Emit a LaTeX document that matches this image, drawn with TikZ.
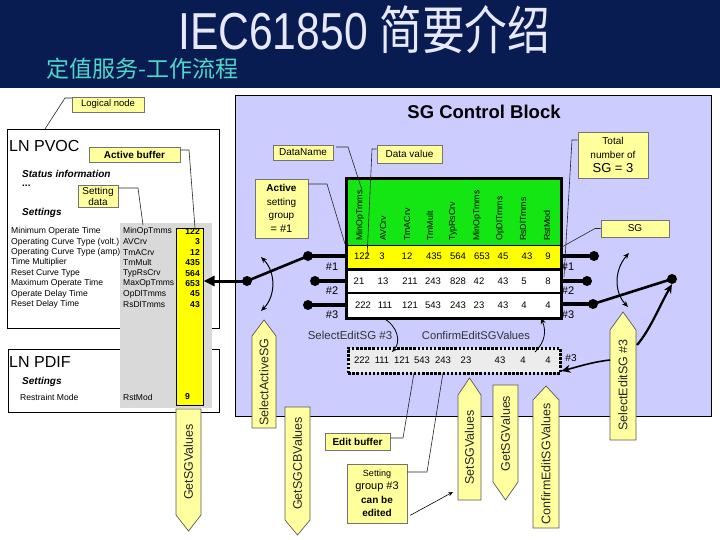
\documentclass[tikz,border=0pt]{standalone}
\usepackage{fontspec}
\setmainfont{Liberation Sans}
\newfontfamily\cjk{Noto Sans CJK SC}
\usetikzlibrary{arrows.meta}
\definecolor{navy}{RGB}{8,28,82}
\definecolor{titlecol}{RGB}{232,232,255}
\definecolor{subcol}{RGB}{80,215,200}
\definecolor{lav}{RGB}{204,204,255}
\definecolor{callout}{RGB}{255,255,155}
\definecolor{arrfill}{RGB}{255,255,160}
\definecolor{tgreen}{RGB}{20,230,20}
\definecolor{tyellow}{RGB}{255,255,0}
\definecolor{graycol}{RGB}{217,217,217}
\definecolor{bufgray}{RGB}{236,236,236}
\newcommand{\myfs}[1]{\fontsize{#1}{#1}\selectfont}
\newcommand{\uparrshape}[7]{%
  \draw[arrshape] (#2,#6) -- (#2,#5) -- ({(#2+#3)/2},#4) -- (#3,#5) -- (#3,#6) -- cycle;
  \node[arrtext, rotate=90] (#1) at ({(#2+#3)/2},{(#5+#6)/2}) {#7};}
\newcommand{\downarrshape}[7]{%
  \draw[arrshape] (#2,#4) -- (#2,#5) -- ({(#2+#3)/2},#6) -- (#3,#5) -- (#3,#4) -- cycle;
  \node[arrtext, rotate=90] (#1) at ({(#2+#3)/2},{(#4+#5)/2}) {#7};}
\begin{document}
\begin{tikzpicture}[x=1pt,y=-1pt,
 callout/.style={draw=black!55, fill=callout, inner sep=0pt, align=center, line width=0.6pt},
 leader/.style={line width=0.6pt, black!85},
 arrshape/.style={draw=black!65, fill=arrfill, line width=0.7pt},
 arrtext/.style={font=\myfs{12.5}, inner sep=0pt, text=black!85},
 dot/.style={circle, fill=black, inner sep=0pt, minimum size=10pt},
 swline/.style={line width=4pt},
 blade/.style={line width=2.6pt},
 curv/.style={line width=1pt, arrows={Stealth[length=6pt,width=5pt]-Stealth[length=6pt,width=5pt]}},
 curv1/.style={line width=0.8pt, arrows={-Stealth[length=6pt,width=5pt]}},
 plain/.style={inner sep=0pt},
 box/.style={draw, line width=0.8pt, anchor=north west, inner sep=0pt},
]
\useasboundingbox (0,0) rectangle (720,540);
\fill[white] (0,0) rectangle (720,540);
\fill[navy] (0,0) rectangle (720,88);
\node[anchor=base west, inner sep=0pt, text=titlecol] (title) at (178,50)
  {\scalebox{0.82}[1]{\fontsize{52}{52}\selectfont IEC61850 {\cjk 简要介绍}}};
\node[anchor=base west, inner sep=0pt, text=subcol] (subtitle) at (46,78)
  {\fontsize{23}{23}\selectfont\cjk 定值服务-工作流程};

% ---------- left panel ----------
\node[box, minimum width=212pt, minimum height=199pt] (pvoc) at (7,129) {};
\node[box, minimum width=211pt, minimum height=63pt] (pdif) at (8,349) {};
\fill[graycol] (120,223) rectangle (212,408);
\node[draw, fill=tyellow, line width=0.6pt, minimum width=27pt, minimum height=177pt, anchor=north west, inner sep=0pt] (ycol) at (176,228) {};

\node[plain, anchor=west, font=\myfs{16}] (pvoct) at (9,146) {LN PVOC};
\node[plain, anchor=west, font=\bfseries\itshape\myfs{10}] (status) at (22,174) {Status information};
\node[plain, anchor=west, font=\bfseries\myfs{10}] (dots) at (22,186) {...};
\node[plain, anchor=west, font=\bfseries\itshape\myfs{10}] (sett1) at (22,213) {Settings};
\foreach \lab/\dn/\val [count=\i] in {Minimum Operate Time/MinOpTmms/122,
  Operating Curve Type (volt.)/AVCrv/3, Operating Curve Type (amp)/TmACrv/12,
  Time Multiplier/TmMult/435, Reset Curve Type/TypRsCrv/564,
  Maximum Operate Time/MaxOpTmms/653, Operate Delay Time/OpDlTmms/45,
  Reset Delay Time/RsDlTmms/43}{
  \pgfmathsetmacro\yy{231.5+(\i-1)*10.4}
  \node[plain, anchor=west, font=\myfs{8.6}] (lab\i) at (11,\yy) {\lab};
  \node[plain, anchor=west, font=\myfs{8.5}] (dn\i) at (123,\yy) {\dn};
  \node[plain, anchor=east, font=\bfseries\myfs{8.6}] (val\i) at (200,\yy) {\val};
}
\node[plain, anchor=west, font=\myfs{16}] (pdift) at (9,362) {LN PDIF};
\node[plain, anchor=west, font=\bfseries\itshape\myfs{10}] (sett2) at (22,382) {Settings};
\node[plain, anchor=west, font=\myfs{8.6}] (rmode) at (20,397) {Restraint Mode};
\node[plain, anchor=west, font=\myfs{8.5}] (rmod) at (123,397) {RstMod};
\node[plain, anchor=west, font=\bfseries\myfs{8.6}] (rval) at (185,397) {9};

\node[callout, minimum width=72pt, minimum height=15pt, font=\myfs{9.5}] (logical) at (108,104.5) {Logical node};
\node[callout, minimum width=91pt, minimum height=15pt, font=\bfseries\myfs{10}] (actbuf) at (134.5,154.5) {Active buffer};
\node[callout, minimum width=40pt, minimum height=22pt, font=\fontsize{10}{11}\selectfont] (setdata) at (98,196) {Setting\\data};
\draw[leader] (72,98) -- (65,98) -- (45,129);
\draw[leader] (actbuf.east |- 0,150) -- (189,150) -- (195,228);
\draw[leader] (setdata.east |- 0,188) -- (138,188) -- (143,225);

% ---------- SG control block ----------
\node[box, fill=lav, minimum width=476pt, minimum height=321pt] (scb) at (235,95) {};
\node[plain, font=\bfseries\myfs{18.5}] (scbtitle) at (484,112) {SG Control Block};

\fill[tgreen] (345,177) rectangle (560,245);
\fill[tyellow] (345,245) rectangle (560,268);
\fill[white] (345,268) rectangle (560,317);
\draw[line width=1pt] (345,245) -- (560,245);
\draw[line width=3pt] (345,269) -- (560,269);
\draw[line width=2.5pt] (345,293) -- (560,293);
\node[draw, line width=3pt, minimum width=215pt, minimum height=140pt, anchor=north west, inner sep=0pt] (tbl) at (345,177) {};
\foreach \t/\x [count=\i] in {MinOpTmms/360, AVCrv/383, TmACrv/407, TmMult/430, TypRsCrv/453,
  MinOpTmms/477, OpDlTmms/500, RsDlTmms/523, RstMod/547}
  \node[plain, rotate=90, anchor=west, font=\myfs{8.8}] (h\i) at (\x,241) {\t};
\foreach \v/\x [count=\i] in {122/362,3/382,12/407,435/434,564/458,653/482,45/503,43/527,9/548}
  \node[plain, font=\myfs{9.5}] (ra\i) at (\x,256.5) {\v};
\foreach \v/\x [count=\i] in {21/359,13/383,211/410,243/433,828/458,42/479,43/503,5/524,8/548}
  \node[plain, font=\myfs{9.5}] (rb\i) at (\x,281) {\v};
\foreach \v/\x [count=\i] in {222/363,111/385,121/410,543/433,243/458,23/479,43/503,4/524,4/548}
  \node[plain, font=\myfs{9.5}] (rc\i) at (\x,305) {\v};

\node[callout, minimum width=60pt, minimum height=15pt, font=\myfs{10}] (dataname) at (303,152.5) {DataName};
\node[callout, minimum width=65pt, minimum height=18pt, font=\myfs{10}] (datavalue) at (409.5,154) {Data value};
\node[callout, minimum width=53pt, minimum height=59pt, font=\fontsize{10}{13.5}\selectfont] (actgrp) at (281.5,208.5) {\textbf{Active}\\setting\\group\\{\myfs{11}= \#1}};
\node[callout, minimum width=70pt, minimum height=46pt, font=\fontsize{10}{14}\selectfont] (total) at (613,155) {Total\\number of\\{\myfs{13}SG = 3}};
\node[callout, minimum width=68pt, minimum height=17pt, font=\myfs{10}] (sgbox) at (635,228.5) {SG};
\draw[leader] (336,147) -- (348,147) -- (362,190);
\draw[leader] (datavalue.west |- 0,149) -- (372,149) -- (367,258);
\draw[leader] (actgrp.east |- 0,184) -- (327,184) -- (345,244);
\draw[leader] (total.west |- 0,140) -- (572,140) -- (564,277);
\draw[leader] (sgbox.west) -- (595,228.5) -- (560,248);

% left switch
\node[dot] (lpiv) at (247,281) {};
\node[dot] (ld1) at (308,256) {};
\node[dot] (ld2) at (315,281) {};
\node[dot] (ld3) at (308,305) {};
\draw[swline] (ld1.center) -- (ld1 -| tbl.west);
\draw[swline] (ld2.center) -- (ld2 -| tbl.west);
\draw[swline] (ld3.center) -- (ld3 -| tbl.west);
\draw[blade] (lpiv.center) -- (ld1.center);
\draw[line width=3pt, arrows={-Triangle[length=11pt,width=10pt]}] (lpiv.center) -- (ycol.east |- lpiv);
\draw[curv] (261,257) .. controls (276,272) and (276,296) .. (261,311);
\node[plain, font=\myfs{11}] (l1) at (332,267) {\#1};
\node[plain, font=\myfs{11}] (l2) at (332,291) {\#2};
\node[plain, font=\myfs{11}] (l3) at (332,315) {\#3};

% right switch
\node[dot] (rpiv) at (672,279) {};
\node[dot] (rd1) at (594,256) {};
\node[dot] (rd2) at (587,281) {};
\node[dot] (rd3) at (593,304) {};
\draw[swline] (rd1.center) -- (rd1 -| tbl.east);
\draw[swline] (rd2.center) -- (rd2 -| tbl.east);
\draw[swline] (rd3.center) -- (rd3 -| tbl.east);
\draw[blade] (rd3.center) -- (rpiv.center);
\draw[curv] (629,253) .. controls (614,270) and (614,292) .. (628,307);
\node[plain, font=\myfs{11}] (r1) at (568,267) {\#1};
\node[plain, font=\myfs{11}] (r2) at (568,291) {\#2};
\node[plain, font=\myfs{11}] (r3) at (568,315) {\#3};

% edit buffer
\node[draw, fill=bufgray, line width=2.5pt, dash pattern=on 2.5pt off 1.6pt, minimum width=212pt, minimum height=25pt, anchor=north west, inner sep=0pt] (ebuf) at (347,347) {};
\foreach \v/\x [count=\i] in {222/362,111/382,121/402,543/422,243/443,23/466,43/500,4/523,4/548}
  \node[plain, font=\myfs{9.5}] (eb\i) at (\x,360) {\v};
\node[plain, font=\myfs{10}] (eb3lab) at (571,358) {\#3};
\node[plain, font=\myfs{11.5}, text=black!80] (selab) at (350,335) {SelectEditSG \#3};
\node[plain, font=\myfs{11.2}, text=black!80] (cflab) at (476,335) {ConfirmEditSGValues};
\draw[curv1] (383,318) .. controls (398,326) and (401,342) .. (392,352);
\draw[curv1] (535,352) .. controls (546,341) and (546,330) .. (541,318);

% bottom arrow shapes
\uparrshape{sas}{252}{276}{320}{336}{428}{SelectActiveSG}
\downarrshape{gsgcb}{285}{310}{407}{520}{535}{GetSGCBValues}
\downarrshape{gsv1}{176}{201}{409}{515}{531}{GetSGValues}
\uparrshape{ssv}{458}{481}{378}{395}{500}{SetSGValues}
\downarrshape{gsv2}{493}{518}{385}{482}{500}{GetSGValues}
\uparrshape{cesv}{533}{559}{386}{400}{528}{ConfirmEditSGValues}
\uparrshape{ses}{610}{636}{312}{330}{440}{SelectEditSG \#3}

\draw[line width=2.2pt, arrows={-Stealth[length=9pt,width=8pt]}] (637,345) .. controls (650,330) and (660,305) .. (rpiv.south);
\draw[line width=1.6pt, arrows={-Stealth[length=9pt,width=8pt]}] (610,360) .. controls (592,362) and (577,367) .. (ebuf.east |- 0,371);

\node[callout, minimum width=65pt, minimum height=17pt, font=\bfseries\myfs{10}] (editbuf) at (357.5,441.5) {Edit buffer};
\node[callout, minimum width=60pt, minimum height=59pt, font=\fontsize{10}{13.5}\selectfont] (editable) at (377,493.5)
  {{\myfs{9}Setting}\\{\myfs{11}group \#3}\\\textbf{can be}\\\textbf{edited}};
\draw[leader] (editbuf.east |- 0,438) -- (403,438) -- (414,373);
\draw[leader] (editable.east |- 0,472) -- (427,472) -- (443,373);
\draw[line width=0.6pt, arrows={-Stealth[length=5pt,width=4pt]}] ([shift={(3pt,8pt)}]editable.south east) -- (453,492);
\end{tikzpicture}
\end{document}
